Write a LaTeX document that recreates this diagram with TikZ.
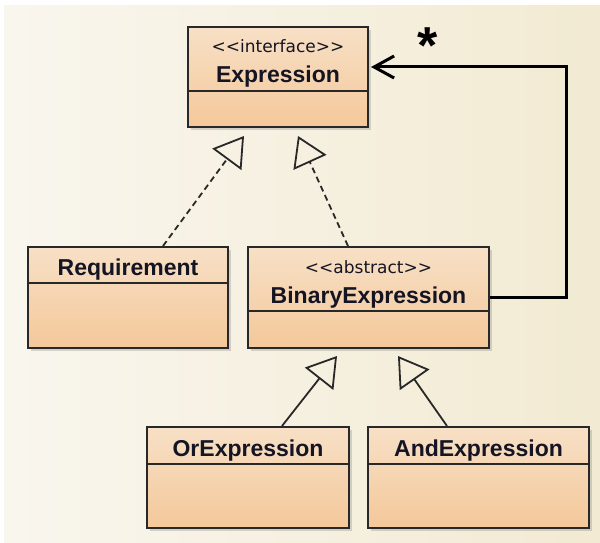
\documentclass[tikz,border=0pt]{standalone}
\usepackage{fontspec}
\setmainfont{Liberation Sans}
\newfontfamily\stereofont{DejaVu Sans}
\usetikzlibrary{arrows.meta,shadows}
\definecolor{bgA}{RGB}{249,246,238}
\definecolor{bgB}{RGB}{242,234,210}
\definecolor{boxtop}{RGB}{247,224,198}
\definecolor{boxbot}{RGB}{244,200,154}
\definecolor{edge}{RGB}{40,40,40}
\definecolor{txt}{RGB}{20,20,35}
\tikzset{
  umlbox/.style={draw=edge, line width=2pt, top color=boxtop, bottom color=boxbot,
    inner sep=0pt, drop shadow={shadow xshift=3pt, shadow yshift=-3pt, opacity=0.3}},
  divider/.style={draw=edge, line width=1.5pt},
  cname/.style={font=\bfseries\fontsize{23}{26}\selectfont, text=txt, anchor=base, inner sep=0pt},
  stereo/.style={font=\stereofont\fontsize{17}{20}\selectfont, text=txt, anchor=base, inner sep=0pt},
  gen/.style={draw=edge, line width=1.8pt, -{Triangle[open, length=29pt, width=36pt, line width=1.8pt]}},
  realize/.style={gen, dash pattern=on 6pt off 4pt},
  assoc/.style={draw=black, line width=3pt, -{Straight Barb[length=20pt, width=22pt, line width=3pt]}},
  mult/.style={font=\bfseries\fontsize{52}{56}\selectfont, anchor=base, inner sep=0pt}
}
\begin{document}
\begin{tikzpicture}[x=1pt, y=-1pt]
\useasboundingbox (0,0) rectangle (600,543);
\fill[white] (0,0) rectangle (600,543);
\shade[left color=bgA, right color=bgB] (4,6) rectangle (600,543);

% boxes
\node[umlbox, minimum width=180pt, minimum height=100pt] (expr) at (278,77) {};
\node[umlbox, minimum width=200pt, minimum height=101pt] (req) at (128,297.5) {};
\node[umlbox, minimum width=241pt, minimum height=101pt] (bin) at (368.5,297.5) {};
\node[umlbox, minimum width=202pt, minimum height=101pt] (orx) at (248,477.5) {};
\node[umlbox, minimum width=221pt, minimum height=101pt] (andx) at (478.5,477.5) {};

% dividers
\draw[divider] (expr.west |- 0,91) -- (expr.east |- 0,91);
\draw[divider] (req.west |- 0,283) -- (req.east |- 0,283);
\draw[divider] (bin.west |- 0,311) -- (bin.east |- 0,311);
\draw[divider] (orx.west |- 0,464) -- (orx.east |- 0,464);
\draw[divider] (andx.west |- 0,464) -- (andx.east |- 0,464);

% texts
\node[stereo] (exprS) at (278,53) {<<interface>>};
\node[cname] (exprN) at (278,83) {Expression};
\node[cname] (reqN) at (128,275) {Requirement};
\node[stereo] (binS) at (368.5,273) {<<abstract>>};
\node[cname] (binN) at (368.5,303) {BinaryExpression};
\node[cname] (orN) at (248,456) {OrExpression};
\node[cname] (andN) at (478.5,456) {AndExpression};

% connector ends
\coordinate (t1) at ([xshift=-34pt, yshift=-8pt]expr.south);
\coordinate (t2) at ([xshift=20pt, yshift=-8pt]expr.south);
\coordinate (t3) at ([xshift=-31.5pt, yshift=-7pt]bin.south);
\coordinate (t4) at ([xshift=29.5pt, yshift=-7pt]bin.south);

\draw[realize] ([xshift=35pt]req.north) -- (t1);
\draw[realize] ([xshift=-20.5pt]bin.north) -- (t2);
\draw[gen] ([xshift=34pt]orx.north) -- (t3);
\draw[gen] ([xshift=-31.5pt]andx.north) -- (t4);

\draw[assoc] (bin.east) -- ++(76,0) |- ([xshift=2pt, yshift=10pt]expr.east);
\node[mult] (star) at (428,64) {*};
\end{tikzpicture}
\end{document}
